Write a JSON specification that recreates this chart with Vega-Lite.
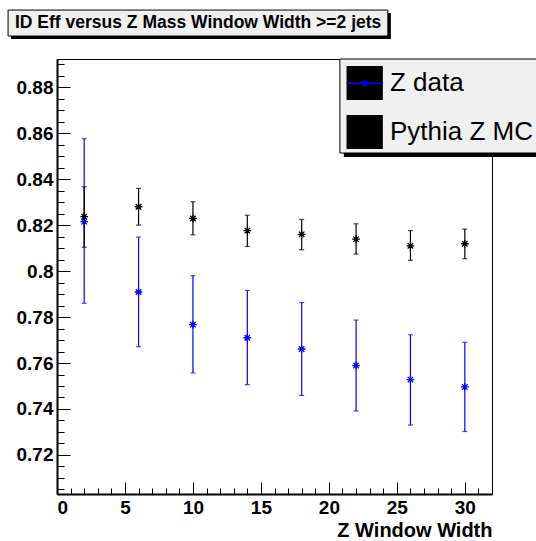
{
  "$schema": "https://vega.github.io/schema/vega-lite/v6.json",
  "width": 435,
  "height": 435,
  "autosize": {"type": "none"},
  "padding": {"left": 57, "top": 59, "right": 44, "bottom": 47},
  "background": "white",
  "config": {
    "view": {"stroke": "black", "strokeWidth": 1},
    "font": "Liberation Sans"
  },
  "resolve": {"axis": {"x": "independent", "y": "independent"}},
  "datasets": {
    "pts": [
      {"width": 2, "eff": 0.8215, "lo": 0.7860, "hi": 0.8576, "series": "Z data"},
      {"width": 6, "eff": 0.7909, "lo": 0.7671, "hi": 0.8148, "series": "Z data"},
      {"width": 10, "eff": 0.7767, "lo": 0.7557, "hi": 0.7980, "series": "Z data"},
      {"width": 14, "eff": 0.7710, "lo": 0.7506, "hi": 0.7916, "series": "Z data"},
      {"width": 18, "eff": 0.7661, "lo": 0.7459, "hi": 0.7863, "series": "Z data"},
      {"width": 22, "eff": 0.7589, "lo": 0.7391, "hi": 0.7787, "series": "Z data"},
      {"width": 26, "eff": 0.7528, "lo": 0.7330, "hi": 0.7723, "series": "Z data"},
      {"width": 30, "eff": 0.7496, "lo": 0.7302, "hi": 0.7690, "series": "Z data"},
      {"width": 2, "eff": 0.8237, "lo": 0.8104, "hi": 0.8367, "series": "Pythia Z MC"},
      {"width": 6, "eff": 0.8280, "lo": 0.8200, "hi": 0.8360, "series": "Pythia Z MC"},
      {"width": 10, "eff": 0.8229, "lo": 0.8158, "hi": 0.8302, "series": "Pythia Z MC"},
      {"width": 14, "eff": 0.8176, "lo": 0.8107, "hi": 0.8243, "series": "Pythia Z MC"},
      {"width": 18, "eff": 0.8160, "lo": 0.8093, "hi": 0.8225, "series": "Pythia Z MC"},
      {"width": 22, "eff": 0.8139, "lo": 0.8074, "hi": 0.8206, "series": "Pythia Z MC"},
      {"width": 26, "eff": 0.8110, "lo": 0.8047, "hi": 0.8176, "series": "Pythia Z MC"},
      {"width": 30, "eff": 0.8119, "lo": 0.8054, "hi": 0.8183, "series": "Pythia Z MC"}
    ],
    "one": [{}]
  },
  "layer": [
    {
      "data": {"name": "pts"},
      "mark": {"type": "errorbar", "ticks": {"size": 5}, "thickness": 1.2},
      "encoding": {
        "x": {
          "field": "width", "type": "quantitative",
          "scale": {"domain": [0, 32], "nice": false, "zero": false},
          "axis": {
            "orient": "bottom", "values": [0, 5, 10, 15, 20, 25, 30], "ticks": false, "grid": false,
            "domain": true, "domainColor": "black", "domainWidth": 2,
            "labelFont": "Liberation Sans", "labelFontWeight": "bold", "labelFontSize": 19, "labelColor": "black", "labelPadding": 4,
            "title": "Z Window Width", "titleFont": "Liberation Sans", "titleFontWeight": "bold", "titleFontSize": 20, "titleColor": "black",
            "titleAnchor": "end", "titleAlign": "right", "titlePadding": 3
          }
        },
        "y": {
          "field": "lo", "type": "quantitative",
          "scale": {"domain": [0.7030, 0.8923], "nice": false, "zero": false},
          "axis": {
            "orient": "left", "values": [0.72, 0.74, 0.76, 0.78, 0.8, 0.82, 0.84, 0.86, 0.88], "format": "~g", "ticks": false, "grid": false,
            "domain": true, "domainColor": "black", "domainWidth": 2,
            "labelFont": "Liberation Sans", "labelFontWeight": "bold", "labelFontSize": 19, "labelColor": "black", "labelPadding": 4,
            "title": null
          }
        },
        "y2": {"field": "hi"},
        "color": {"field": "series", "type": "nominal", "scale": {"domain": ["Z data", "Pythia Z MC"], "range": ["#0000ff", "#000000"]}, "legend": null}
      }
    },
    {
      "data": {"name": "pts"},
      "mark": {"type": "point", "shape": "M-1,0L1,0M0,-1L0,1M-0.7,-0.7L0.7,0.7M-0.7,0.7L0.7,-0.7", "size": 60, "strokeWidth": 1.3, "filled": false, "opacity": 1},
      "encoding": {
        "x": {
          "field": "width", "type": "quantitative",
          "axis": {"orient": "bottom", "values": [0, 5, 10, 15, 20, 25, 30], "labels": false, "domain": false, "ticks": true, "tickSize": -12, "tickColor": "black", "tickWidth": 1, "grid": false, "title": null}
        },
        "y": {
          "field": "eff", "type": "quantitative",
          "axis": {"orient": "left", "values": [0.72, 0.74, 0.76, 0.78, 0.8, 0.82, 0.84, 0.86, 0.88], "labels": false, "domain": false, "ticks": true, "tickSize": -13, "tickColor": "black", "tickWidth": 1, "grid": false, "title": null}
        },
        "color": {"field": "series", "type": "nominal", "legend": null}
      }
    },
    {
      "data": {"name": "pts"},
      "mark": {"type": "point", "opacity": 0},
      "encoding": {
        "x": {
          "field": "width", "type": "quantitative",
          "axis": {"orient": "bottom", "values": [1, 2, 3, 4, 6, 7, 8, 9, 11, 12, 13, 14, 16, 17, 18, 19, 21, 22, 23, 24, 26, 27, 28, 29, 31], "labels": false, "domain": false, "ticks": true, "tickSize": -6, "tickColor": "black", "tickWidth": 1, "grid": false, "title": null}
        },
        "y": {
          "field": "eff", "type": "quantitative",
          "axis": {"orient": "left", "values": [0.705, 0.71, 0.715, 0.725, 0.73, 0.735, 0.745, 0.75, 0.755, 0.765, 0.77, 0.775, 0.785, 0.79, 0.795, 0.805, 0.81, 0.815, 0.825, 0.83, 0.835, 0.845, 0.85, 0.855, 0.865, 0.87, 0.875, 0.885, 0.89], "labels": false, "domain": false, "ticks": true, "tickSize": -7, "tickColor": "black", "tickWidth": 1, "grid": false, "title": null}
        }
      }
    },
    {
      "data": {"name": "one"},
      "mark": {"type": "rect", "fill": "black", "clip": false},
      "encoding": {
        "x": {"datum": -3.38, "type": "quantitative", "axis": null},
        "x2": {"datum": 24.56},
        "y": {"datum": 0.9123, "type": "quantitative", "axis": null},
        "y2": {"datum": 0.9010}
      }
    },
    {
      "data": {"name": "one"},
      "mark": {"type": "rect", "fill": "#f0f0f0", "stroke": "black", "strokeWidth": 1, "clip": false},
      "encoding": {
        "x": {"datum": -3.60, "type": "quantitative", "axis": null},
        "x2": {"datum": 24.34},
        "y": {"datum": 0.9136, "type": "quantitative", "axis": null},
        "y2": {"datum": 0.9023}
      }
    },
    {
      "data": {"name": "one"},
      "mark": {"type": "text", "align": "left", "baseline": "middle", "font": "Liberation Sans", "fontWeight": "bold", "fontSize": 17.5, "color": "black", "clip": false},
      "encoding": {
        "x": {"datum": -3.09, "type": "quantitative", "axis": null},
        "y": {"datum": 0.9080, "type": "quantitative", "axis": null},
        "text": {"value": "ID Eff versus Z Mass Window Width >=2 jets"}
      }
    },
    {
      "data": {"name": "one"},
      "mark": {"type": "rect", "fill": "black", "clip": false},
      "encoding": {
        "x": {"datum": 21.1, "type": "quantitative", "axis": null},
        "x2": {"datum": 36.5},
        "y": {"datum": 0.8906, "type": "quantitative", "axis": null},
        "y2": {"datum": 0.8497}
      }
    },
    {
      "data": {"name": "one"},
      "mark": {"type": "rect", "fill": "#f0f0f0", "stroke": "black", "strokeWidth": 1, "clip": false},
      "encoding": {
        "x": {"datum": 20.81, "type": "quantitative", "axis": null},
        "x2": {"datum": 36.0},
        "y": {"datum": 0.8923, "type": "quantitative", "axis": null},
        "y2": {"datum": 0.8514}
      }
    },
    {
      "data": {"name": "one"},
      "mark": {"type": "rect", "fill": "black", "clip": false},
      "encoding": {
        "x": {"datum": 21.30, "type": "quantitative", "axis": null},
        "x2": {"datum": 23.97},
        "y": {"datum": 0.8893, "type": "quantitative", "axis": null},
        "y2": {"datum": 0.8745}
      }
    },
    {
      "data": {"name": "one"},
      "mark": {"type": "rect", "fill": "black", "clip": false},
      "encoding": {
        "x": {"datum": 21.30, "type": "quantitative", "axis": null},
        "x2": {"datum": 23.97},
        "y": {"datum": 0.8679, "type": "quantitative", "axis": null},
        "y2": {"datum": 0.8531}
      }
    },
    {
      "data": {"name": "one"},
      "mark": {"type": "rule", "color": "#0000ff", "strokeWidth": 1.5, "clip": false},
      "encoding": {
        "x": {"datum": 21.30, "type": "quantitative", "axis": null},
        "x2": {"datum": 23.97},
        "y": {"datum": 0.8817, "type": "quantitative", "axis": null}
      }
    },
    {
      "data": {"name": "one"},
      "mark": {"type": "point", "shape": "M-1,0L1,0M0,-1L0,1M-0.7,-0.7L0.7,0.7M-0.7,0.7L0.7,-0.7", "size": 60, "strokeWidth": 1.3, "filled": false, "color": "#0000ff", "opacity": 1, "clip": false},
      "encoding": {
        "x": {"datum": 22.65, "type": "quantitative", "axis": null},
        "y": {"datum": 0.8817, "type": "quantitative", "axis": null}
      }
    },
    {
      "data": {"name": "one"},
      "mark": {"type": "text", "align": "left", "baseline": "middle", "font": "Liberation Sans", "fontSize": 26, "color": "black", "clip": false},
      "encoding": {
        "x": {"datum": 24.49, "type": "quantitative", "axis": null},
        "y": {"datum": 0.8819, "type": "quantitative", "axis": null},
        "text": {"value": "Z data"}
      }
    },
    {
      "data": {"name": "one"},
      "mark": {"type": "text", "align": "left", "baseline": "middle", "font": "Liberation Sans", "fontSize": 26, "color": "black", "clip": false},
      "encoding": {
        "x": {"datum": 24.49, "type": "quantitative", "axis": null},
        "y": {"datum": 0.8605, "type": "quantitative", "axis": null},
        "text": {"value": "Pythia Z MC"}
      }
    }
  ]
}
